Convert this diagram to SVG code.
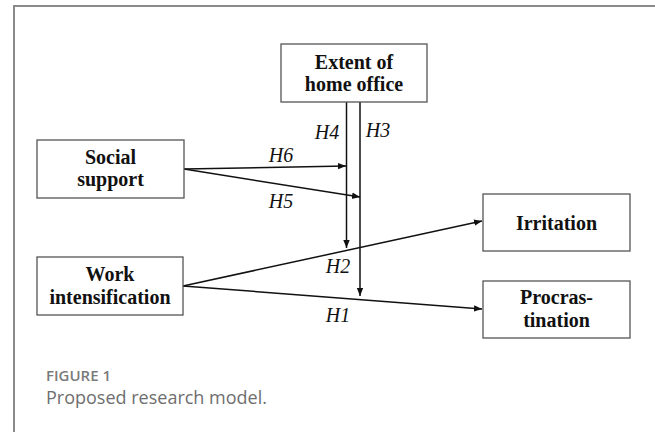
<svg xmlns="http://www.w3.org/2000/svg" width="655" height="432" viewBox="0 0 655 432">
<style>
.box{fill:#fff;stroke:#555;stroke-width:1.3}
.nt{font-family:"Liberation Serif",serif;font-weight:bold;font-size:20px;fill:#111;text-anchor:middle}
.lb{font-family:"Liberation Serif",serif;font-style:italic;font-size:20px;fill:#111;text-anchor:middle}
.ln{stroke:#111;stroke-width:1.5;fill:none;marker-end:url(#ah)}
.frame{stroke:#8a8a8a;stroke-width:2;fill:none}
</style>
<defs>
<marker id="ah" viewBox="0 0 10 10" refX="10" refY="5" markerWidth="8" markerHeight="8" markerUnits="userSpaceOnUse" orient="auto">
<path d="M0,1 L10,5 L0,9 Z" fill="#111"/>
</marker>
</defs>
<rect width="655" height="432" fill="#fff"/>
<path class="frame" d="M14,432 V6 H655"/>
<g id="connectors">
<line class="ln" x1="346.5" y1="102" x2="346.5" y2="248"/>
<line class="ln" x1="360" y1="102" x2="360" y2="296"/>
<line class="ln" x1="184" y1="169" x2="346" y2="166"/>
<line class="ln" x1="184" y1="169" x2="360" y2="197"/>
<line class="ln" x1="183" y1="286" x2="482" y2="221"/>
<line class="ln" x1="183" y1="286" x2="482" y2="309"/>
<text class="lb" x="327" y="139">H4</text>
<text class="lb" x="378" y="137">H3</text>
<text class="lb" x="281" y="162">H6</text>
<text class="lb" x="281" y="208">H5</text>
<text class="lb" x="338" y="273">H2</text>
<text class="lb" x="338" y="322">H1</text>
</g>
<g id="extent">
<rect class="box" x="281" y="44" width="146" height="58"/>
<text class="nt" x="354" y="69">Extent of</text>
<text class="nt" x="354" y="91">home office</text>
</g>
<g id="social">
<rect class="box" x="37" y="140" width="147" height="58"/>
<text class="nt" x="110.5" y="164">Social</text>
<text class="nt" x="110.5" y="186">support</text>
</g>
<g id="work">
<rect class="box" x="37" y="257" width="146" height="58"/>
<text class="nt" x="110" y="281">Work</text>
<text class="nt" x="110" y="304">intensification</text>
</g>
<g id="irritation">
<rect class="box" x="483" y="194" width="147" height="57"/>
<text class="nt" x="556.5" y="230">Irritation</text>
</g>
<g id="procrastination">
<rect class="box" x="483" y="281" width="147" height="57"/>
<text class="nt" x="556.5" y="304">Procras-</text>
<text class="nt" x="556.5" y="327">tination</text>
</g>
<g id="caption">
<text x="46" y="381" font-family="Open Sans, sans-serif" font-weight="600" font-size="15" fill="#7a7a7a">FIGURE 1</text>
<text x="46" y="404" font-family="Open Sans, sans-serif" font-size="18" fill="#6e6e6e">Proposed research model.</text>
</g>
</svg>
